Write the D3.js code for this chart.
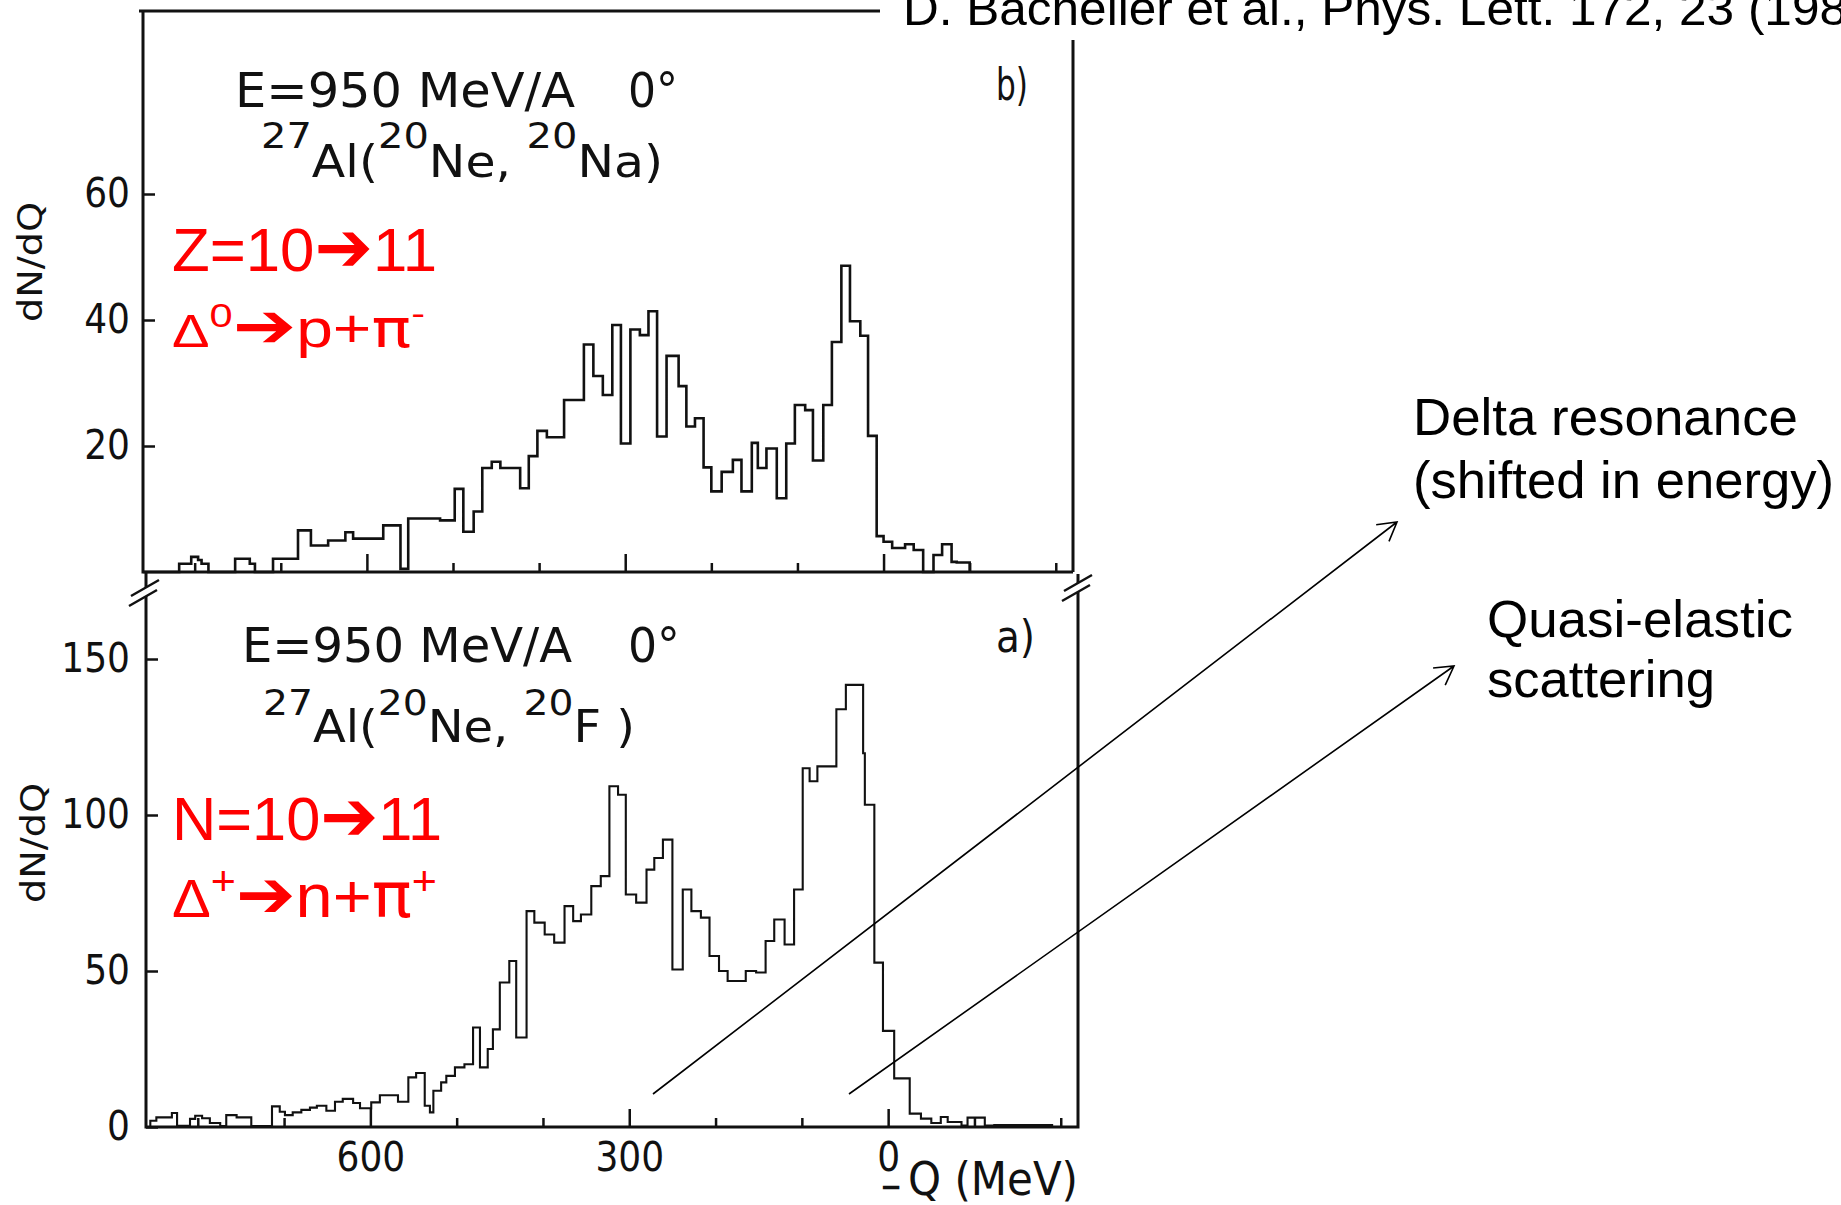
<!DOCTYPE html>
<html>
<head>
<meta charset="utf-8">
<script src="https://cdn.jsdelivr.net/npm/d3@7"></script>
<style>
    body { margin: 0; background: #fff; overflow: hidden; }
    svg { display: block; }
    .scan { font-family: "DejaVu Sans Condensed", "DejaVu Sans", sans-serif; fill: #111; }
    .note { font-family: "Liberation Sans", Arial, sans-serif; fill: #000; }
    .red { font-family: "Liberation Sans", Arial, sans-serif; fill: #ff0000; }
    .sym { font-family: "DejaVu Sans", sans-serif; }
</style>
</head>
<body>
<script>
// b) 27Al(20Ne,20Na) : Q (MeV) where each step starts, and the count on that step
const topQ = [860, 818, 804, 796, 792, 784, 753, 736, 730, 709, 680, 665, 645, 625, 616, 581, 561, 552,
    515, 498, 488, 476, 466, 455, 445, 422, 412, 402, 391, 371, 348, 337, 326, 315, 305, 294, 283,
    273, 263, 252, 238, 229, 219, 209, 200, 188, 175, 165, 153, 146, 136, 124, 113, 103, 91, 82, 70,
    60, 49, 39, 27, 18, 8, 0, -10, -25, -35, -46, -58, -68, -79, -85, -100];
const topCounts = [0, 1.3, 2.4, 1.9, 1.3, 0, 2.1, 1.3, 0, 2.1, 6.6, 4.2, 5.0, 6.3, 5.3, 7.4, 0.5, 8.5,
    8.2, 13.2, 6.4, 9.6, 16.5, 17.5, 16.5, 13.3, 18.4, 22.4, 21.4, 27.3, 36.1, 31.1, 28.1, 39.2, 20.4, 38.5, 37.6,
    41.4, 21.5, 34.3, 29.5, 23.1, 24.4, 16.6, 12.8, 15.9, 17.8, 12.8, 20.5, 16.5, 19.6, 11.7, 20.4, 26.5, 25.7, 17.7, 26.5,
    36.5, 48.6, 39.8, 37.5, 21.6, 5.7, 4.8, 3.8, 4.4, 3.5, 0, 2.7, 4.4, 1.6, 1.5, 0];

// a) 27Al(20Ne,20F)
const botQ = [860, 855, 848, 830, 824, 809, 803, 795, 786, 774, 767, 755, 738, 714, 705, 699, 690, 680,
    670, 662, 651, 641, 632, 620, 612, 599, 589, 568, 556, 547, 537, 531, 527, 518, 512, 502, 491,
    481, 473, 464, 458, 450, 439, 431, 419, 410, 398, 387, 375, 365, 356, 344, 333, 323, 313, 304,
    292, 280, 271, 261, 250, 238, 228, 217, 207, 196, 186, 165, 153, 142, 132, 120, 109, 99, 91,
    82, 60, 49, 29, 27, 16, 6, -7, -25, -38, -50, -61, -69, -85, -92, -112, -123, -190];
const botCounts = [0, 2.0, 3.1, 4.5, 0.4, 2.6, 3.6, 2.8, 1.3, 0.3, 3.8, 3.1, 0.3, 6.6, 4.9, 3.8, 4.7, 5.5,
    6.2, 6.8, 5.2, 8.1, 9.0, 7.7, 6.0, 7.9, 10.2, 8.1, 15.9, 17.3, 6.8, 4.7, 11.6, 14.3, 16.4, 19.1, 20.1,
    31.9, 19.1, 25, 31.3, 46.3, 53.2, 28.7, 69.2, 65.5, 61.7, 59.1, 70.8, 66, 68.1, 77.2, 80.4, 109.2, 106.5, 74.5,
    71.9, 82.5, 86.2, 92.1, 50.5, 76.1, 69.2, 67.1, 54.8, 50, 46.8, 50, 49.5, 59.6, 66.5, 58.5, 76.1, 115, 110.8,
    115.6, 133.9, 141.7, 119.8, 103.3, 52.7, 30.8, 15.6, 4.3, 2.7, 1.3, 3.2, 1.6, 0.5, 3.0, 0.5, 0.6, 0];

const topYTicks = [20, 40, 60];
const botYTicks = [0, 50, 100, 150];
const qTicks = [800, 700, 500, 400, 200, 100, -100, -200];
const qMajorTicks = [600, 300, 0];

const W = 1841, H = 1205;
const svg = d3.select("body").append("svg")
    .attr("width", W)
    .attr("height", H);

const xTop = d3.scaleLinear().domain([860, -220]).range([143, 1073]);
const yTop = d3.scaleLinear().domain([0, 60]).range([572, 194]);
const xBot = d3.scaleLinear().domain([860, -220]).range([146, 1078]);
const yBot = d3.scaleLinear().domain([0, 150]).range([1127, 659]);

// frames (scanned figure, top edge runs into the citation)
const frame = svg.append("g").attr("fill", "none").attr("stroke", "#111").attr("stroke-width", 3);
frame.append("path").attr("d", `M139,11 L880,11`);
frame.append("path").attr("d", `M143,11 L143,${yTop(0)} L1073,${yTop(0)} M1073,40 L1073,${yTop(0)}`);
frame.append("path").attr("d", `M146,${yTop(0)} L146,${yBot(0)} L1078,${yBot(0)} L1078,${yTop(0) + 2}`);

// axis break marks
function breakMark(cx, cy) {
    svg.append("path")
        .attr("d", `M${cx - 14},${cy + 13} L${cx + 14},${cy - 3} L${cx + 14},${cy - 12} L${cx - 14},${cy + 4} Z`)
        .attr("fill", "#fff");
    svg.append("path")
        .attr("d", `M${cx - 15},${cy + 14} L${cx + 13},${cy - 2} M${cx - 13},${cy + 4} L${cx + 15},${cy - 12}`)
        .attr("stroke", "#111").attr("stroke-width", 2.5).attr("fill", "none");
}
breakMark(144, 592);
breakMark(1077, 587);

// histograms
function histo(q, c, x, y, width) {
    const pts = q.map((d, i) => ({ q: d, c: c[i] }));
    const line = d3.line()
        .x(d => x(d.q))
        .y(d => y(d.c))
        .curve(d3.curveStepAfter);
    svg.append("path")
        .attr("d", line(pts))
        .attr("fill", "none")
        .attr("stroke", "#111")
        .attr("stroke-width", width)
        .attr("stroke-linejoin", "miter");
}
histo(topQ, topCounts, xTop, yTop, 2.6);
histo(botQ, botCounts, xBot, yBot, 2.1);

// axes
function styleAxis(g) {
    g.select(".domain").remove();
    g.selectAll(".tick line").attr("stroke", "#111").attr("stroke-width", 2.5);
    g.selectAll(".tick text").attr("class", "scan").attr("fill", "#111")
        .attr("font-size", 40);
    g.attr("font-family", null).attr("font-size", null);
}

svg.append("g").attr("transform", `translate(${xTop(860)},0)`)
    .call(d3.axisLeft(yTop).tickValues(topYTicks).tickSize(-12).tickPadding(13).tickFormat(d3.format("d")))
    .call(styleAxis);
svg.append("g").attr("transform", `translate(${xBot(860)},0)`)
    .call(d3.axisLeft(yBot).tickValues(botYTicks).tickSize(-12).tickPadding(16).tickFormat(d3.format("d")))
    .call(styleAxis);

svg.append("g").attr("transform", `translate(0,${yTop(0)})`)
    .call(d3.axisBottom(xTop).tickValues(qMajorTicks).tickSize(-18).tickFormat(""))
    .call(styleAxis);
svg.append("g").attr("transform", `translate(0,${yTop(0)})`)
    .call(d3.axisBottom(xTop).tickValues(qTicks).tickSize(-9).tickFormat(""))
    .call(styleAxis);
svg.append("g").attr("transform", `translate(0,${yBot(0)})`)
    .call(d3.axisBottom(xBot).tickValues(qMajorTicks).tickSize(-18).tickPadding(16).tickFormat(d3.format("d")))
    .call(styleAxis);
svg.append("g").attr("transform", `translate(0,${yBot(0)})`)
    .call(d3.axisBottom(xBot).tickValues(qTicks).tickSize(-9).tickFormat(""))
    .call(styleAxis);

// text helper: parts = [text, size, rise, class]
function label(cls, x, y, parts, len, extra) {
    const t = svg.append("text")
        .attr("class", cls)
        .attr("x", x)
        .attr("y", y);
    if (len) t.attr("textLength", len).attr("lengthAdjust", "spacingAndGlyphs");
    if (extra) extra(t);
    let rise = 0;
    parts.forEach(p => {
        const r = p[2] || 0;
        const s = t.append("tspan")
            .attr("font-size", p[1])
            .attr("dy", rise - r)
            .text(p[0]);
        if (p[3]) s.attr("class", p[3]);
        rise = r;
    });
    return t;
}

// axis titles
label("scan", 0, 0, [["dN/dQ", 34]], 120, t => t.attr("text-anchor", "middle")
    .attr("transform", "translate(42,262) rotate(-90)"));
label("scan", 0, 0, [["dN/dQ", 34]], 120, t => t.attr("text-anchor", "middle")
    .attr("transform", "translate(45,843) rotate(-90)"));
label("scan", 880, 1200, [["\u2212", 40]], 22);
label("scan", 908, 1195, [["Q (MeV)", 46]], 170);

// panel b) header
label("scan", 235, 107, [["E=950 MeV/A", 48]], 340);
label("scan", 628, 107, [["0\u00b0", 48]], 50);
label("scan", 261, 177, [["27", 36, 29], ["Al(", 44], ["20", 36, 29], ["Ne, ", 44], ["20", 36, 29], ["Na)", 44]], 402);
label("scan", 996, 100, [["b)", 44]], 32);

// panel a) header
label("scan", 242, 662, [["E=950  MeV/A", 48]], 330);
label("scan", 628, 662, [["0\u00b0", 48]], 52);
label("scan", 263, 742, [["27", 36, 27], ["Al(", 44], ["20", 36, 27], ["Ne, ", 44], ["20", 36, 27], ["F )", 44]], 372);
label("scan", 996, 652, [["a)", 44]], 39);

// red reaction notes
label("red", 172, 271, [["Z=10", 62], ["\u2794", 70, 0, "sym"], ["11", 62]], 265);
label("red", 172, 347, [["\u0394", 46], ["0", 34, 20], ["\u2794", 62, 0, "sym"], ["p+", 54], ["\u03c0", 54, 0, "sym"], ["-", 34, 22]], 253);
label("red", 172, 840, [["N=10", 62], ["\u2794", 70, 0, "sym"], ["11", 62]], 270);
label("red", 172, 917, [["\u0394", 54], ["+", 40, 22], ["\u2794", 66, 0, "sym"], ["n+", 62], ["\u03c0", 62, 0, "sym"], ["+", 40, 22]], 265);

// citation and annotations
label("note", 903, 25, [["D. Bachelier et al., Phys. Lett. 172, 23 (1986)", 48]], 988);
label("note", 1413, 435, [["Delta resonance", 52]], 385);
label("note", 1413, 498, [["(shifted in energy)", 52]], 421);
label("note", 1487, 637, [["Quasi-elastic", 52]], 306);
label("note", 1487, 697, [["scattering", 52]], 228);

function arrow(x1, y1, x2, y2) {
    const a = Math.atan2(y2 - y1, x2 - x1);
    const L = 21, s = Math.PI / 6;
    const p1 = [x2 - L * Math.cos(a - s), y2 - L * Math.sin(a - s)];
    const p2 = [x2 - L * Math.cos(a + s), y2 - L * Math.sin(a + s)];
    svg.append("path")
        .attr("d", `M${x1},${y1} L${x2},${y2} M${p1[0]},${p1[1]} L${x2},${y2} L${p2[0]},${p2[1]}`)
        .attr("fill", "none")
        .attr("stroke", "#000")
        .attr("stroke-width", 1.6);
}
arrow(653, 1094, 1397, 522);
arrow(849, 1094, 1454, 666);
</script>
</body>
</html>
